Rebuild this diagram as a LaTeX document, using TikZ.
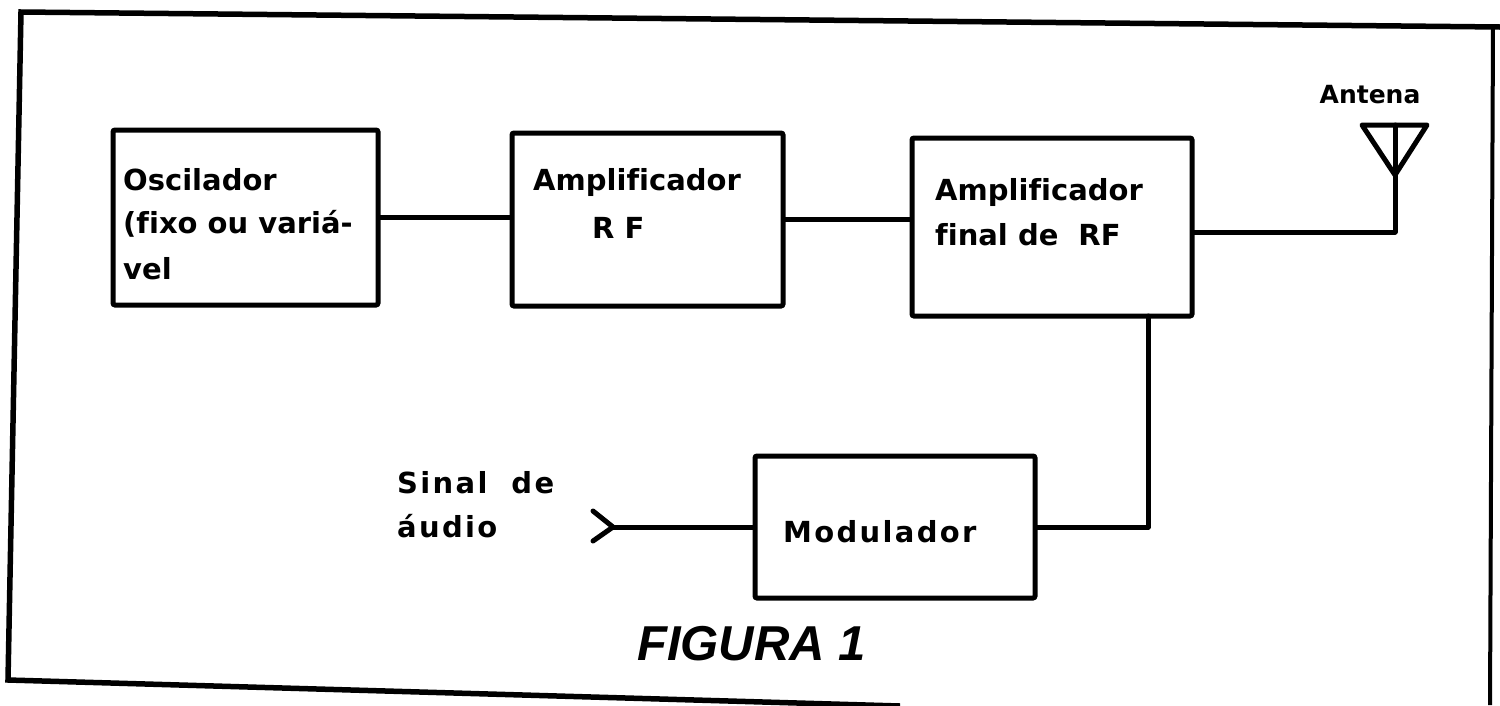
\documentclass[tikz,border=0pt]{standalone}
\usepackage{fontspec}
\newfontfamily\lab{DejaVu Sans}[Ligatures={NoCommon}]
\newfontfamily\labsp{DejaVu Sans}[LetterSpace=8,Ligatures={NoCommon}]
\newfontfamily\figfont{Liberation Sans}
\begin{document}
\begin{tikzpicture}[x=1pt,y=-1pt,
  box/.style={draw, line width=5pt, rounded corners=2pt, inner sep=0pt},
  wire/.style={line width=5pt, line join=round, line cap=round},
  txt/.style={anchor=base west, inner sep=0pt, font=\lab\bfseries\fontsize{29}{31}\selectfont},
  txtsp/.style={anchor=base west, inner sep=0pt, font=\labsp\bfseries\fontsize{29}{31}\selectfont}]
\useasboundingbox (0,0) rectangle (1500,705);
% frame
\draw[line width=5.5pt] (1500,27) -- (21,12) -- (8,680) -- (900,706);
\draw[line width=4pt] (1493,26) -- (1490,705);
% boxes
\node[box, minimum width=265pt, minimum height=175pt] (osc) at (245.5,217.5) {};
\node[box, minimum width=271pt, minimum height=173pt] (amp) at (647.5,219.5) {};
\node[box, minimum width=280pt, minimum height=178pt] (fin) at (1052,227) {};
\node[box, minimum width=280pt, minimum height=142pt] (mod) at (895,527) {};
% texts
\node[txt] (t1) at (123,190) {Oscilador};
\node[txt] (t2) at (123,233) {(fixo ou variá-};
\node[txt] (t3) at (123,279) {vel};
\node[txt] (t4) at (533,190) {Amplificador};
\node[txt] (t5) at (592,238) {R F};
\node[txt] (t6) at (935,200) {Amplificador};
\node[txt] (t7) at (935,245) {final de\hspace{20pt}RF};
\node[txtsp] (t8) at (783,542) {Modulador};
\node[txtsp] (t9) at (397,493) {Sinal\hspace{24pt}de};
\node[txtsp] (t10) at (397,537) {áudio};
\node[anchor=base, inner sep=0pt, font=\lab\bfseries\fontsize{25}{27}\selectfont] (ant) at (1370,103) {Antena};
\node[anchor=base west, inner sep=0pt, font=\figfont\bfseries\itshape\fontsize{49}{52}\selectfont] (fig) at (637,660) {FIGURA 1};
% antenna
\coordinate (atop) at (1395,125);
\coordinate (abot) at (1395,232);
\draw[wire] (1362,125) -- (1427,125) -- (1395,175) -- cycle;
\draw[wire] (atop) -- (abot);
% connectors
\draw[wire] (osc.east) -- (osc.east -| amp.west);
\draw[wire] (amp.east) -- (amp.east -| fin.west);
\draw[wire] (fin.east |- abot) -- (abot);
\coordinate (fdown) at (1148,316);
\draw[wire] (fdown) |- (mod.east);
\coordinate (tip) at (613,527);
\draw[wire] (mod.west) -- (tip);
\draw[wire] (593,511) -- (tip) -- (593,541);
\end{tikzpicture}
\end{document}
